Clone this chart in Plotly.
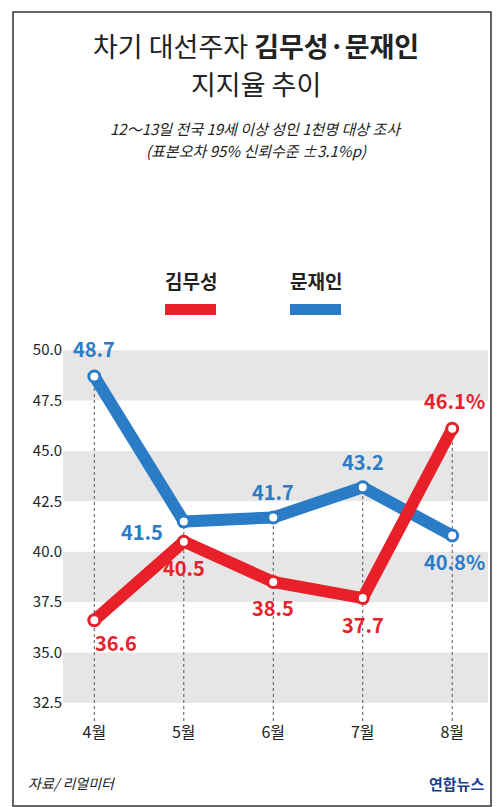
import plotly.graph_objects as go

months = ["4월", "5월", "6월", "7월", "8월"]
kim = [36.6, 40.5, 38.5, 37.7, 46.1]
moon = [48.7, 41.5, 41.7, 43.2, 40.8]
kim_labels = ["36.6", "40.5", "38.5", "37.7", "46.1%"]
moon_labels = ["48.7", "41.5", "41.7", "43.2", "40.8%"]
y_ticks = [32.5, 35.0, 37.5, 40.0, 42.5, 45.0, 47.5, 50.0]

RED = "#e8202a"
BLUE = "#2b7cc6"
FONT = "Noto Sans CJK KR"
xs = list(range(len(months)))

fig = go.Figure()

# gray bands
shapes = []
for lo in [32.5, 37.5, 42.5, 47.5]:
    shapes.append(dict(type="rect", xref="paper", yref="y", x0=0, x1=1, y0=lo, y1=lo + 2.5,
                       fillcolor="#e6e6e6", line_width=0, layer="below"))
# dotted guides
for i in xs:
    shapes.append(dict(type="line", xref="x", yref="y", x0=i, x1=i, y0=31.6,
                       y1=max(kim[i], moon[i]), line=dict(color="#555", width=1, dash="dot"),
                       layer="below"))
# outer frame
shapes.append(dict(type="rect", xref="paper", yref="paper", x0=-50/425, x1=1 + 3/425,
                   y0=-85/397, y1=1 + 312/397, line=dict(color="#333", width=1.5)))
# legend bars
shapes.append(dict(type="rect", xref="paper", yref="paper", x0=(157-55)/425, x1=(208-55)/425,
                   y0=(713-307)/397, y1=(713-296)/397, fillcolor=RED, line_width=0))
shapes.append(dict(type="rect", xref="paper", yref="paper", x0=(282-55)/425, x1=(333-55)/425,
                   y0=(713-307)/397, y1=(713-296)/397, fillcolor=BLUE, line_width=0))

for vals, col in [(moon, BLUE), (kim, RED)]:
    fig.add_trace(go.Scatter(x=xs, y=vals, mode="lines+markers",
                             line=dict(color=col, width=12),
                             marker=dict(size=11, color="white", line=dict(color=col, width=3)),
                             hoverinfo="skip", showlegend=False))

ann = []
moon_off = [(0, -28), (-42, 10), (0, -26), (0, -26), (2, 26)]
kim_off = [(22, 22), (0, 26), (0, 26), (0, 26), (2, -28)]
for i in xs:
    ann.append(dict(x=i, y=moon[i], text="<b>" + moon_labels[i] + "</b>", showarrow=False,
                    xshift=moon_off[i][0], yshift=-moon_off[i][1],
                    font=dict(size=20, color=BLUE, family=FONT)))
    ann.append(dict(x=i, y=kim[i], text="<b>" + kim_labels[i] + "</b>", showarrow=False,
                    xshift=kim_off[i][0], yshift=-kim_off[i][1],
                    font=dict(size=20, color=RED, family=FONT)))


def txt(x, y, text, size, color="#222", anchor="center"):
    ann.append(dict(xref="paper", yref="paper", x=(x - 55) / 425, y=(713 - y) / 397, text=text,
                    showarrow=False, xanchor=anchor, yanchor="middle",
                    font=dict(size=size, color=color, family=FONT)))


txt(248, 37, "차기 대선주자 <b>김무성·문재인</b>", 27)
txt(248, 76, "지지율 추이", 27)
txt(248, 120, "<i>12～13일 전국 19세 이상 성인 1천명 대상 조사</i>", 15)
txt(248, 143, "<i>(표본오차 95% 신뢰수준 ±3.1%p)</i>", 15)
txt(183, 272, "<b>김무성</b>", 19)
txt(308, 272, "<b>문재인</b>", 19)
txt(18, 775, "<i>자료/ 리얼미터</i>", 14, anchor="left")
txt(478, 775, "<b>연합뉴스</b>", 15, color="#1d3f8f", anchor="right")

fig.update_layout(
    width=490, height=800, paper_bgcolor="white", plot_bgcolor="white",
    margin=dict(l=55, r=10, t=316, b=87),
    shapes=shapes, annotations=ann,
    xaxis=dict(range=[-0.35, 4.4], tickvals=xs, ticktext=months, showgrid=False, zeroline=False,
               showline=False, ticks="", tickfont=dict(size=16, color="#222", family=FONT)),
    yaxis=dict(range=[31.6, 51.3], tickvals=y_ticks, ticktext=[f"{v:.1f}" for v in y_ticks],
               showgrid=False, zeroline=False, ticks="",
               tickfont=dict(size=15, color="#222", family=FONT)),
)

fig.write_html("out.html")
